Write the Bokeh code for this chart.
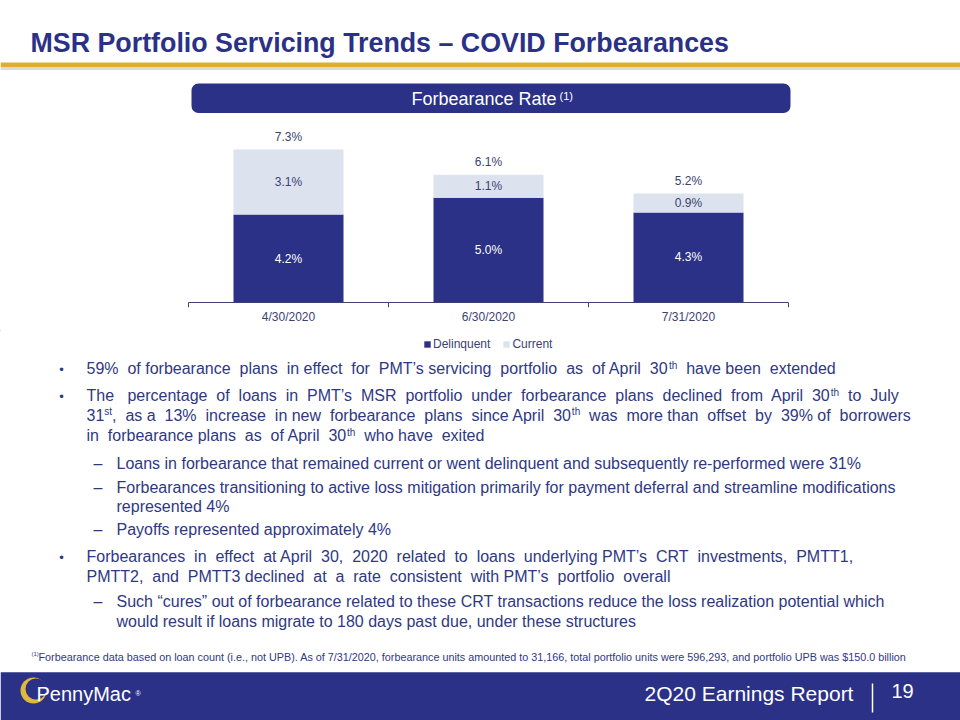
from bokeh.plotting import figure
from bokeh.models import ColumnDataSource, Range1d, Legend, LegendItem, FixedTicker
from bokeh.layouts import column
from bokeh.core.properties import value
from bokeh.embed import file_html
from bokeh.resources import INLINE

# ---------------- data ----------------
dates = ["4/30/2020", "6/30/2020", "7/31/2020"]
delinquent = [4.2, 5.0, 4.3]
current = [3.1, 1.1, 0.9]
totals = [7.3, 6.1, 5.2]
series_names = ["Delinquent", "Current"]

title_text = "MSR Portfolio Servicing Trends – COVID Forbearances"
panel_title = "Forbearance Rate"
footnote_text = ("Forbearance data based on loan count (i.e., not UPB).  As of 7/31/2020, forbearance units "
                 "amounted to 31,166, total portfolio units were 596,293, and portfolio UPB  was $150.0 billion")
footer_text = "2Q20 Earnings Report"
page_number = "19"

# (marker, indent level, text segments; ^ marks superscript)
bullet_lines = [
    ("b", 1, ["59% of forbearance plans in effect for PMT’s servicing portfolio as of April 30", "^th", " have been extended"]),
    ("b", 1, ["The percentage of loans in PMT’s MSR portfolio under forbearance plans declined from April 30", "^th", " to July"]),
    ("", 1, ["31", "^st", ", as a 13% increase in new forbearance plans since April 30", "^th", " was more than offset by 39% of borrowers"]),
    ("", 1, ["in forbearance plans as of April 30", "^th", " who have exited"]),
    ("d", 2, ["Loans in forbearance that remained current or went delinquent and subsequently re-performed were 31%"]),
    ("d", 2, ["Forbearances transitioning to active loss mitigation primarily for payment deferral and streamline modifications"]),
    ("", 2, ["represented 4%"]),
    ("d", 2, ["Payoffs represented approximately 4%"]),
    ("b", 1, ["Forbearances in effect at April 30, 2020 related to loans underlying PMT’s CRT investments, PMTT1,"]),
    ("", 1, ["PMTT2, and PMTT3 declined at a rate consistent with PMT’s portfolio overall"]),
    ("d", 2, ["Such “cures” out of forbearance related to these CRT transactions reduce the loss realization potential which"]),
    ("", 2, ["would result if loans migrate to 180 days past due, under these structures"]),
]
# layout of the text block (page pixels)
line_baselines = [374, 401, 420.5, 441, 468.5, 492.5, 512, 535, 561.5, 581.5, 606.5, 626.5]
line_ends = [837, 898, 910, 483, None, None, None, None, 855, 671, None, None]

# ---------------- style ----------------
FONT = "Liberation Sans"
NAVY = "#2A3187"
LIGHT = "#DCE3EF"
GOLD = "#D9B12E"
TXT = "#2F3882"
LBL = "#3C4270"
W = 960
NBSP = "\u00a0"

# Arial / Liberation Sans advance widths (1/1000 em) for placing superscripts after text
AW = {" ": 278, NBSP: 278, "%": 889, "’": 222, ",": 278, ".": 278, "-": 333, "“": 333, "”": 333,
      "(": 333, ")": 333, "/": 278, "$": 556, "–": 556}
for ch, w in zip("abcdefghijklmnopqrstuvwxyz",
                 [556, 556, 500, 556, 556, 278, 556, 556, 222, 222, 500, 222, 833, 556, 556, 556, 556,
                  333, 500, 278, 556, 500, 722, 500, 500, 500]):
    AW[ch] = w
for ch, w in zip("ABCDEFGHIJKLMNOPQRSTUVWXYZ",
                 [667, 667, 722, 722, 667, 611, 778, 722, 278, 500, 667, 556, 833, 722, 778, 667, 778,
                  722, 667, 611, 722, 667, 944, 667, 667, 611]):
    AW[ch] = w
for ch in "0123456789":
    AW[ch] = 556


def tw(s, size):
    return sum(AW.get(ch, 556) for ch in s) * size / 1000.0


def mid(baseline, size):
    # y of the em-box middle for a given alphabetic baseline
    return baseline - 0.35 * size


def canvas_fig(height, y0, y1):
    p = figure(width=W, height=height, x_range=Range1d(0, W), y_range=Range1d(y1, y0),
               output_backend="svg", toolbar_location=None, x_axis_location=None,
               y_axis_location=None, min_border=0, outline_line_color=None)
    p.grid.visible = False
    return p


def put(p, x, base, text, size, color, align="left", bold=False):
    p.text(x=[x], y=[mid(base, size)], text=[text], text_font=value(FONT),
           text_font_style="bold" if bold else "normal", text_font_size=f"{size}px",
           text_color=color, text_baseline="middle", text_align=align)


# ---------------- top: title + panel header (page y 0..120) ----------------
p1 = canvas_fig(120, 0, 120)
put(p1, 30, 52, title_text, 26.8, NAVY, bold=True)
p1.quad(left=[0], right=[W], top=[62], bottom=[66.5], fill_color=GOLD, line_color=None)
p1.quad(left=[0], right=[W], top=[66.5], bottom=[69.5], fill_color="#DADADA", line_color=None)
p1.quad(left=[191], right=[790], top=[83], bottom=[112.5], fill_color=NAVY, line_color=None,
        border_radius=7)
put(p1, 556, 105, panel_title, 18, "white", align="right")
put(p1, 559, 99, "(1)", 11, "white")

# ---------------- chart (page y 120..330) ----------------
PX_PER_UNIT = 20.95       # vertical pixels per percentage point
CAT_PX = 200              # horizontal pixels per category slot
frame_h = 177
ymin = -5 / PX_PER_UNIT
ymax = frame_h / PX_PER_UNIT + ymin
xpos = list(range(len(dates)))
x_lo = -0.5 - 188 / CAT_PX
x_hi = x_lo + W / CAT_PX

src = ColumnDataSource(dict(
    x=xpos,
    Delinquent=delinquent,
    Current=current,
    total=totals,
    del_mid=[d / 2 for d in delinquent],
    cur_mid=[d + c / 2 for d, c in zip(delinquent, current)],
    del_lab=[f"{v:.1f}%" for v in delinquent],
    cur_lab=[f"{v:.1f}%" for v in current],
    tot_lab=[f"{v:.1f}%" for v in totals],
))
bounds = [i - 0.5 for i in xpos] + [xpos[-1] + 0.5]

p2 = figure(width=W, height=210, x_range=Range1d(x_lo, x_hi), y_range=Range1d(ymin, ymax),
            output_backend="svg", toolbar_location=None,
            min_border_left=0, min_border_right=0, min_border_top=10, min_border_bottom=23,
            outline_line_color=None, y_axis_location=None)
p2.xgrid.visible = False
p2.ygrid.visible = False
xa = p2.xaxis[0]
xa.ticker = FixedTicker(ticks=xpos)
xa.major_label_overrides = {i: d for i, d in zip(xpos, dates)}
xa.axis_line_color = None
xa.major_tick_line_color = None
xa.minor_tick_line_color = None
xa.major_label_text_font = FONT
xa.major_label_text_font_size = "12px"
xa.major_label_text_color = LBL
xa.major_label_standoff = -4

p2.vbar_stack(series_names, x="x", width=0.55, color=[NAVY, LIGHT], line_color=None, source=src)

p2.segment(x0=[bounds[0]], x1=[bounds[-1]], y0=[0], y1=[0], line_color="#3D4270", line_width=1)
p2.segment(x0=bounds, x1=bounds, y0=0, y1=ymin, line_color="#3D4270", line_width=1)

p2.text(x="x", y="del_mid", text="del_lab", source=src, text_font=value(FONT),
        text_font_size="12px", text_color="white", text_align="center", text_baseline="middle")
p2.text(x="x", y="cur_mid", text="cur_lab", source=src, text_font=value(FONT),
        text_font_size="12px", text_color=LBL, text_align="center", text_baseline="middle")
p2.text(x="x", y="total", text="tot_lab", source=src, text_font=value(FONT),
        text_font_size="12px", text_color=LBL, text_align="center", text_baseline="middle",
        y_offset=-13)

# ---------------- legend strip (page y 330..357) ----------------
# the same stacked series, kept outside this strip's view, supply the legend keys
p2b = figure(width=W, height=27, x_range=Range1d(10, 11), y_range=Range1d(-2, -1),
             output_backend="svg", toolbar_location=None, x_axis_location=None,
             y_axis_location=None, min_border=0, outline_line_color=None)
p2b.grid.visible = False
key_rends = p2b.vbar_stack(series_names, x="x", width=0.55, color=[NAVY, LIGHT], line_color=None,
                           source=src)
legend = Legend(items=[LegendItem(label=n, renderers=[r]) for n, r in zip(series_names, key_rends)],
                location=(423, 6), orientation="horizontal", glyph_width=8, glyph_height=8,
                label_text_font=FONT, label_text_font_size="12px", label_text_color=LBL,
                label_standoff=2, spacing=12, padding=0, margin=0, label_height=12,
                background_fill_alpha=0, border_line_color=None)
p2b.add_layout(legend, "center")

# ---------------- bottom: bullets, footnote, footer (page y 357..720) ----------------
p3 = canvas_fig(363, 357, 720)

BODY = 16
SUP = 10
norm_x, norm_y, norm_t = [], [], []
sup_x, sup_y, sup_t = [], [], []
bul_x, bul_y = [], []
dash_x, dash_y = [], []
for (marker, level, segs), base, end in zip(bullet_lines, line_baselines, line_ends):
    start = 86 if level == 1 else 116
    segs = list(segs)
    if end is not None:
        # widen word gaps with no-break spaces so the line spans like the original
        natural = sum(tw(s[1:], SUP) if s.startswith("^") else tw(s, BODY) for s in segs)
        k = max(0, round((end - start - natural) / tw(NBSP, BODY)))
        gaps = [(si, ci) for si, s in enumerate(segs) if not s.startswith("^")
                for ci, ch in enumerate(s) if ch == " "]
        n = len(gaps)
        extra = [0] * n
        for j in range(k):
            extra[int((j + 0.5) * n / k) % n if k <= n else j % n] += 1
        new = []
        for si, s in enumerate(segs):
            if s.startswith("^"):
                new.append(s)
                continue
            out = []
            for ci, ch in enumerate(s):
                if ch == " ":
                    out.append(NBSP * extra[gaps.index((si, ci))] + " ")
                else:
                    out.append(ch)
            new.append("".join(out))
        segs = new
    if marker == "b":
        bul_x.append(61); bul_y.append(base - 5)
    elif marker == "d":
        dash_x.append(97.5); dash_y.append(mid(base, BODY))
    cur = start
    for s in segs:
        if s.startswith("^"):
            t = s[1:]
            sup_x.append(cur); sup_y.append(mid(base - 6, SUP)); sup_t.append(t)
            cur += tw(t, SUP)
        else:
            core = s.strip()
            lead = s[:len(s) - len(s.lstrip())]
            norm_x.append(cur + tw(lead, BODY)); norm_y.append(mid(base, BODY)); norm_t.append(core)
            cur += tw(s, BODY)

p3.text(x=norm_x, y=norm_y, text=norm_t, text_font=value(FONT), text_font_size=f"{BODY}px",
        text_color=TXT, text_baseline="middle", text_align="left")
p3.text(x=sup_x, y=sup_y, text=sup_t, text_font=value(FONT), text_font_size=f"{SUP}px",
        text_color=TXT, text_baseline="middle", text_align="left")
p3.text(x=bul_x, y=bul_y, text=["•"] * len(bul_x), text_font=value(FONT), text_font_size="13px",
        text_color=TXT, text_baseline="middle", text_align="center")
p3.text(x=dash_x, y=dash_y, text=["–"] * len(dash_x), text_font=value(FONT), text_font_size=f"{BODY}px",
        text_color=TXT, text_baseline="middle", text_align="center")

# footnote
fn_size = round(875 / (tw(footnote_text, 1000) / 1000.0), 2)
put(p3, 31, 656, "(1)", 6, TXT)
put(p3, 38, 660, footnote_text, fn_size, TXT)

# footer band
p3.quad(left=[0], right=[W], top=[671.7], bottom=[720], fill_color=NAVY, line_color=None)
put(p3, 644, 700.5, footer_text, 21, "white")
p3.segment(x0=[872], x1=[872], y0=[683], y1=[712], line_color="white", line_width=1.5)
put(p3, 891, 697, page_number, 20, "white")

# logo
p3.circle(x=[33], y=[690], radius=13, fill_color="#E3B63C", line_color=None)
p3.circle(x=[35.5], y=[688.5], radius=10.5, fill_color=NAVY, line_color=None)
put(p3, 36, 700, "PennyMac", 20, "white")
put(p3, 135, 695, "®", 7, "white")

layout = column(p1, p2, p2b, p3, spacing=0)
open("out.html", "w").write(file_html(layout, INLINE))
